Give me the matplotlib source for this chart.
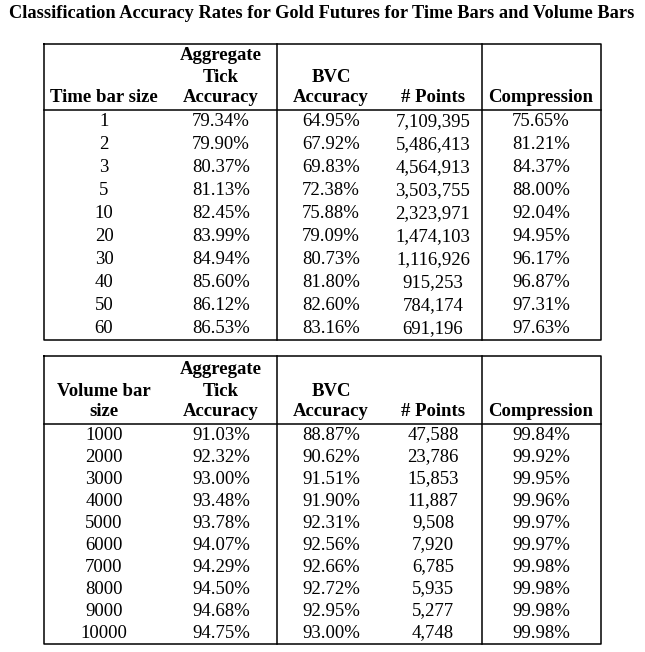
import matplotlib
matplotlib.use("Agg")
import matplotlib.pyplot as plt

title = "Classification Accuracy Rates for Gold Futures for Time Bars and Volume Bars"

time_sizes = ["1", "2", "3", "5", "10", "20", "30", "40", "50", "60"]
time_tick = ["79.34%", "79.90%", "80.37%", "81.13%", "82.45%", "83.99%", "84.94%", "85.60%", "86.12%", "86.53%"]
time_bvc = ["64.95%", "67.92%", "69.83%", "72.38%", "75.88%", "79.09%", "80.73%", "81.80%", "82.60%", "83.16%"]
time_points = ["7,109,395", "5,486,413", "4,564,913", "3,503,755", "2,323,971", "1,474,103", "1,116,926", "915,253", "784,174", "691,196"]
time_comp = ["75.65%", "81.21%", "84.37%", "88.00%", "92.04%", "94.95%", "96.17%", "96.87%", "97.31%", "97.63%"]

vol_sizes = ["1000", "2000", "3000", "4000", "5000", "6000", "7000", "8000", "9000", "10000"]
vol_tick = ["91.03%", "92.32%", "93.00%", "93.48%", "93.78%", "94.07%", "94.29%", "94.50%", "94.68%", "94.75%"]
vol_bvc = ["88.87%", "90.62%", "91.51%", "91.90%", "92.31%", "92.56%", "92.66%", "92.72%", "92.95%", "93.00%"]
vol_points = ["47,588", "23,786", "15,853", "11,887", "9,508", "7,920", "6,785", "5,935", "5,277", "4,748"]
vol_comp = ["99.84%", "99.92%", "99.95%", "99.96%", "99.97%", "99.97%", "99.98%", "99.98%", "99.98%", "99.98%"]

# header lines, top to bottom, per column
time_headers = [["", "", "Time bar size"], ["Aggregate", "Tick", "Accuracy"], ["", "BVC", "Accuracy"],
                ["", "", "# Points"], ["", "", "Compression"]]
vol_headers = [["", "Volume bar", "size"], ["Aggregate", "Tick", "Accuracy"], ["", "BVC", "Accuracy"],
               ["", "", "# Points"], ["", "", "Compression"]]

plt.rcParams['font.family'] = ['Liberation Serif', 'DejaVu Serif']

fig = plt.figure(figsize=(6.45, 6.52), dpi=100)
ax = fig.add_axes([0, 0, 1, 1])
ax.set_xlim(0, 645)
ax.set_ylim(652, 0)
ax.axis('off')

col_x = [104, 221, 331, 433, 541]
left, right = 44, 601
seps = [277, 482]
fs = 13.5
lw = 1.1


def draw_table(top, head_bot, bottom, headers, columns):
    ax.plot([left, right, right, left, left], [top, top, bottom, bottom, top], color='black', lw=lw)
    ax.plot([left, right], [head_bot, head_bot], color='black', lw=lw)
    for x in seps:
        ax.plot([x, x], [top, bottom], color='black', lw=lw)
    for cx, lines in zip(col_x, headers):
        for k, txt in enumerate(reversed(lines)):
            if txt:
                ax.text(cx, head_bot - 12 - 21 * k, txt, ha='center', va='center',
                        fontsize=fs, fontweight='bold')
    n = len(columns[0])
    step = (bottom - head_bot) / n
    for cx, col in zip(col_x, columns):
        for i, val in enumerate(col):
            ax.text(cx, head_bot + step * (i + 0.5), val, ha='center', va='center', fontsize=fs)


ax.text(322, 14, title, ha='center', va='center', fontsize=13.2, fontweight='bold')

draw_table(44, 110, 340, time_headers, [time_sizes, time_tick, time_bvc, time_points, time_comp])
draw_table(356, 424, 644, vol_headers, [vol_sizes, vol_tick, vol_bvc, vol_points, vol_comp])

fig.savefig("out.png", dpi=100)
